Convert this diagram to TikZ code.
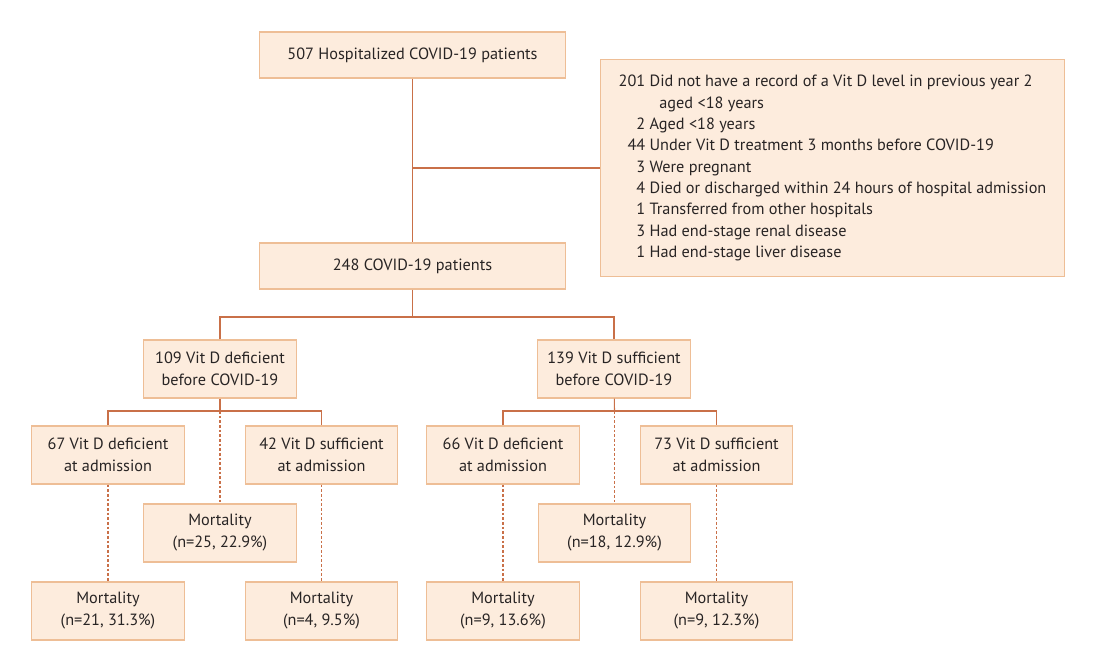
\documentclass[tikz,border=0pt]{standalone}
\usepackage{fontspec}
\setmainfont{PT Sans}
\usepackage{tikz}
\definecolor{peach}{RGB}{253,236,221}
\definecolor{peachline}{RGB}{238,190,150}
\definecolor{rust}{RGB}{201,112,72}
\definecolor{ink}{RGB}{40,36,36}

\begin{document}
\begin{tikzpicture}[x=0.75pt,y=-0.75pt,font=\fontsize{12.2}{16.5}\selectfont,text=ink,
	box/.style={draw=peachline,fill=peach,line width=0.8pt,inner sep=0pt,align=center},
	wide/.style={box,minimum width=230pt,minimum height=34.5pt},
	small/.style={box,minimum width=114.5pt,minimum height=43.5pt},
	link/.style={draw=rust,line width=0.8pt},
	dlink/.style={link,dash pattern=on 2pt off 1.5pt}]
      \useasboundingbox (0,0) rectangle (1115,652);
      \node [wide] (total) at (412.5,55) {507 Hospitalized COVID-19 patients};
      \node [box,minimum width=348pt,minimum height=162.75pt,anchor=north west] (excl) at (600,59)
	{\renewcommand{\arraystretch}{0.97}\begin{tabular}{@{}r@{\ }l@{}}
	  201 & Did not have a record of a Vit D level in previous year 2\\
	      & \hspace{0.6em}aged <18 years\\
	  2 & Aged <18 years\\
	  44 & Under Vit D treatment 3 months before COVID-19\\
	  3 & Were pregnant\\
	  4 & Died or discharged within 24 hours of hospital admission\\
	  1 & Transferred from other hospitals\\
	  3 & Had end-stage renal disease\\
	  1 & Had end-stage liver disease
	\end{tabular}};
      \node [wide] (cohort) at (412.5,266) {248 COVID-19 patients};
      \node [small] (defb) at (220,369) {109 Vit D deficient\\before COVID-19};
      \node [small] (sufb) at (614,369) {139 Vit D sufficient\\before COVID-19};
      \node [small] (defdef) at (108,455) {67 Vit D deficient\\at admission};
      \node [small] (defsuf) at (321.5,455) {42 Vit D sufficient\\at admission};
      \node [small] (sufdef) at (503,455) {66 Vit D deficient\\at admission};
      \node [small] (sufsuf) at (716.5,455) {73 Vit D sufficient\\at admission};
      \node [small] (mortdef) at (220,533) {Mortality\\(n=25, 22.9\%)};
      \node [small] (mortsuf) at (614.5,533) {Mortality\\(n=18, 12.9\%)};
      \node [small] (mdd) at (108,611) {Mortality\\(n=21, 31.3\%)};
      \node [small] (mds) at (321.5,611) {Mortality\\(n=4, 9.5\%)};
      \node [small] (msd) at (503,611) {Mortality\\(n=9, 13.6\%)};
      \node [small] (mss) at (716.5,611) {Mortality\\(n=9, 12.3\%)};
      \coordinate (split) at (412.5,317);
      \coordinate (jdef) at (220,411);
      \coordinate (jsuf) at (614.5,411);
      \draw [link] (total) -- (cohort);
      \draw [link] (total |- excl.west) -- (excl.west);
      \draw [link] (cohort) -- (split);
      \draw [link] (defb.north) |- (split) -| (sufb.north);
      \draw [link] (defb) -- (jdef);
      \draw [link] (defdef.north) |- (jdef) -| (defsuf.north);
      \draw [link] (sufb) -- (jsuf);
      \draw [link] (sufdef.north) |- (jsuf) -| (sufsuf.north);
      \draw [dlink] (jdef) -- (mortdef);
      \draw [dlink] (jsuf) -- (mortsuf);
      \draw [dlink] (defdef) -- (mdd);
      \draw [dlink] (defsuf) -- (mds);
      \draw [dlink] (sufdef) -- (msd);
      \draw [dlink] (sufsuf) -- (mss);
  \end{tikzpicture}
\end{document}
